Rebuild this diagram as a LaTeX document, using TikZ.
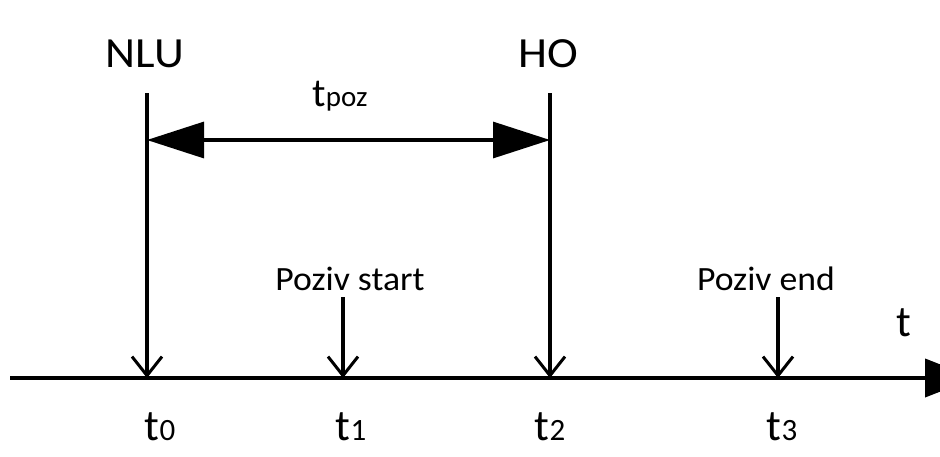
\documentclass[tikz,border=0pt]{standalone}
\usepackage{fontspec}
\setmainfont{Carlito}
\usetikzlibrary{arrows.meta}
\begin{document}
\begin{tikzpicture}[x=1pt,y=-1pt,
  ln/.style={line width=3.2pt},
  evarrow/.style={ln,-{Straight Barb[length=19pt,width=30pt,line width=3pt]}},
  big/.style={font=\fontsize{43}{46}\selectfont,anchor=base,inner sep=0pt,xscale=1.08},
  mid/.style={font=\fontsize{34}{38}\selectfont,anchor=base,inner sep=0pt,xscale=1.05},
  tl/.style={font=\fontsize{44}{48}\selectfont,anchor=base,inner sep=0pt}]
\useasboundingbox (0,0) rectangle (940,456);
\clip (0,0) rectangle (940,456);
% axis
\coordinate (ax0) at (10,378);
\coordinate (ax1) at (975,378);
\draw[line width=4pt,-{Triangle[length=50pt,width=38pt]}] (ax0) -- (ax1);
% event lines
\coordinate (n0) at (147,93);  \coordinate (n1) at (147,378);
\coordinate (h0) at (550,93);  \coordinate (h1) at (550,378);
\coordinate (s0) at (343,297); \coordinate (s1) at (343,378);
\coordinate (e0) at (778,297); \coordinate (e1) at (778,378);
\draw[evarrow] (n0) -- (n1);
\draw[evarrow] (h0) -- (h1);
\draw[evarrow] (s0) -- (s1);
\draw[evarrow] (e0) -- (e1);
% tpoz
\coordinate (p0) at (147,140); \coordinate (p1) at (550,140);
\draw[ln,{Triangle[length=57pt,width=36pt]}-{Triangle[length=57pt,width=36pt]}] (p0) -- (p1);
% labels
\node[big] (nlu) at (145,67) {NLU};
\node[big] (ho) at (548,67) {HO};
\node[tl] (tpoz) at (340,106) {\fontsize{40}{42}\selectfont t\fontsize{29}{32}\selectfont poz};
\node[mid] (ps) at (350,290) {Poziv start};
\node[mid] (pe) at (766,290) {Poziv end};
\node[tl] (t) at (904,336) {t};
\node[tl] (t0) at (160,440) {t\fontsize{31}{34}\selectfont 0};
\node[tl] (t1) at (351,440) {t\fontsize{31}{34}\selectfont 1};
\node[tl] (t2) at (550,440) {t\fontsize{31}{34}\selectfont 2};
\node[tl] (t3) at (782,440) {t\fontsize{31}{34}\selectfont 3};
\end{tikzpicture}
\end{document}
